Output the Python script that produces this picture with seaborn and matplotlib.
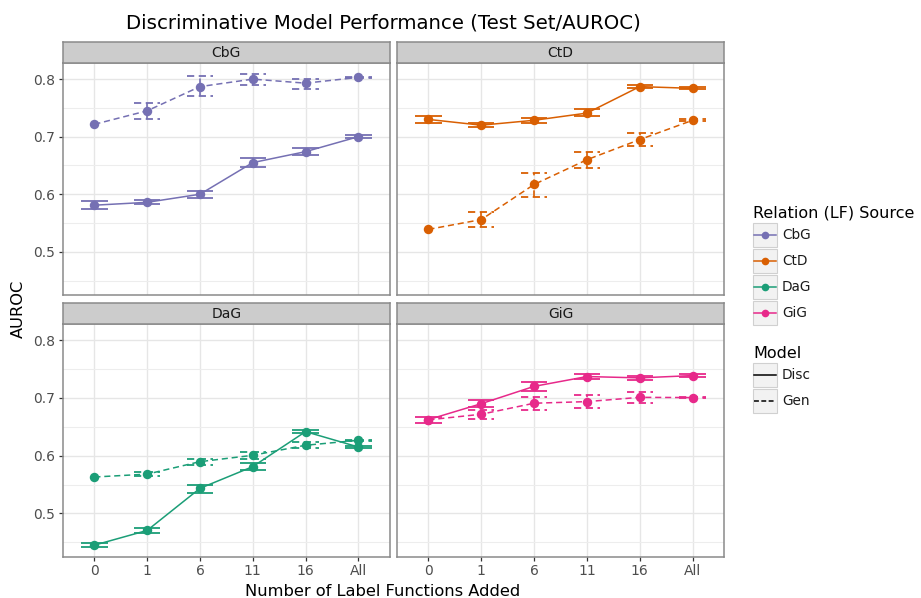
import numpy as np
import pandas as pd
import matplotlib
matplotlib.use("Agg")
import matplotlib.pyplot as plt
import seaborn as sns
from matplotlib.patches import Rectangle
from matplotlib.lines import Line2D

# ---------------- data ----------------
lf_added = ["0", "1", "6", "11", "16", "All"]
relations = ["CbG", "CtD", "DaG", "GiG"]
models = ["Disc", "Gen"]
palette = ["#7570B3", "#D95F02", "#1B9E77", "#E7298A"]
nan = np.nan

cbg_disc = [0.581, 0.586, 0.600, 0.655, 0.674, 0.700]
cbg_disc_lo = [0.574, 0.583, 0.594, 0.647, 0.668, 0.697]
cbg_disc_hi = [0.588, 0.590, 0.605, 0.663, 0.680, 0.703]
cbg_gen = [0.7215, 0.745, 0.787, 0.800, 0.793, 0.803]
cbg_gen_lo = [nan, 0.731, 0.770, 0.789, 0.783, 0.802]
cbg_gen_hi = [nan, 0.759, 0.805, 0.809, 0.801, 0.804]

ctd_disc = [0.730, 0.720, 0.7285, 0.741, 0.787, 0.784]
ctd_disc_lo = [0.724, 0.716, 0.724, 0.7355, 0.784, 0.782]
ctd_disc_hi = [0.7355, 0.724, 0.733, 0.748, 0.7895, 0.7866]
ctd_gen = [0.539, 0.556, 0.617, 0.660, 0.695, 0.7285]
ctd_gen_lo = [nan, 0.5425, 0.596, 0.646, 0.683, 0.727]
ctd_gen_hi = [nan, 0.570, 0.637, 0.674, 0.706, 0.730]

dag_disc = [0.445, 0.4705, 0.5434, 0.581, 0.6416, 0.615]
dag_disc_lo = [0.442, 0.466, 0.536, 0.5757, 0.639, 0.6127]
dag_disc_hi = [0.448, 0.475, 0.550, 0.587, 0.644, 0.6173]
dag_gen = [0.563, 0.568, 0.5896, 0.6006, 0.618, 0.6266]
dag_gen_lo = [nan, 0.5647, 0.584, 0.595, 0.6127, 0.6255]
dag_gen_hi = [nan, 0.5715, 0.594, 0.606, 0.623, 0.6277]

gig_disc = [0.6624, 0.690, 0.720, 0.737, 0.7347, 0.7387]
gig_disc_lo = [0.656, 0.6838, 0.7127, 0.733, 0.7318, 0.736]
gig_disc_hi = [0.6676, 0.6965, 0.727, 0.741, 0.7376, 0.741]
gig_gen = [0.662, 0.6717, 0.6908, 0.6936, 0.701, 0.7006]
gig_gen_lo = [nan, 0.663, 0.6786, 0.682, 0.691, 0.6995]
gig_gen_hi = [nan, 0.6798, 0.7017, 0.7046, 0.7104, 0.7017]

series = {
    ("CbG", "Disc"): (cbg_disc, cbg_disc_lo, cbg_disc_hi),
    ("CbG", "Gen"): (cbg_gen, cbg_gen_lo, cbg_gen_hi),
    ("CtD", "Disc"): (ctd_disc, ctd_disc_lo, ctd_disc_hi),
    ("CtD", "Gen"): (ctd_gen, ctd_gen_lo, ctd_gen_hi),
    ("DaG", "Disc"): (dag_disc, dag_disc_lo, dag_disc_hi),
    ("DaG", "Gen"): (dag_gen, dag_gen_lo, dag_gen_hi),
    ("GiG", "Disc"): (gig_disc, gig_disc_lo, gig_disc_hi),
    ("GiG", "Gen"): (gig_gen, gig_gen_lo, gig_gen_hi),
}

rows = []
for (rel, mod), (m, lo, hi) in series.items():
    for i, lab in enumerate(lf_added):
        rows.append(dict(relation=rel, model=mod, lf=lab, pos=i,
                         auroc=m[i], lo=lo[i], hi=hi[i]))
df = pd.DataFrame(rows)

# ---------------- figure ----------------
W, H = 921, 598
fig = plt.figure(figsize=(W / 100, H / 100), dpi=100)
plt.rcParams["font.family"] = ["DejaVu Sans"]

def rect(x0, y0, x1, y1):
    return [x0 / W, 1 - y1 / H, (x1 - x0) / W, (y1 - y0) / H]

cols = [(62.7, 390.0), (396.7, 724.3)]
rows_px = [(63.3, 295.0), (324.3, 556.7)]
strips = [(42.3, 63.3), (303.3, 324.3)]
border = "#8a8a8a"
dash = (0, (4, 2.5))

for k, rel in enumerate(relations):
    r, c = divmod(k, 2)
    x0, x1 = cols[c]
    y0, y1 = rows_px[r]
    ax = fig.add_axes(rect(x0, y0, x1, y1))
    color = palette[k]
    sub = df[df.relation == rel]
    ax.set_axisbelow(True)
    sns.lineplot(data=sub, x="pos", y="auroc", style="model",
                 style_order=models,
                 dashes={"Disc": "", "Gen": (4, 2.5)},
                 markers={"Disc": "o", "Gen": "o"},
                 markersize=6.8, markeredgewidth=0, color=color,
                 linewidth=1.1, legend=False, errorbar=None, ax=ax)
    for mod in models:
        s = sub[(sub.model == mod) & sub.lo.notna()]
        ls = "-" if mod == "Disc" else dash
        ax.vlines(s.pos, s.lo, s.hi, color=color, lw=1.2, linestyles=ls)
        ax.hlines(s.lo, s.pos - 0.25, s.pos + 0.25, color=color, lw=1.3, linestyles=ls)
        ax.hlines(s.hi, s.pos - 0.25, s.pos + 0.25, color=color, lw=1.3, linestyles=ls)

    ax.set_xlim(-0.6, 5.6)
    ax.set_ylim(0.425, 0.8275)
    ax.set_xticks(range(len(lf_added)))
    ax.set_xticklabels(lf_added)
    ax.set_yticks([0.5, 0.6, 0.7, 0.8])
    ax.set_yticks([0.45, 0.55, 0.65, 0.75], minor=True)
    ax.grid(which="major", axis="both", color="#E6E6E6", lw=1.0)
    ax.grid(which="minor", axis="y", color="#EDEDED", lw=0.8)
    ax.tick_params(which="minor", length=0)
    ax.tick_params(which="major", length=3.2, width=0.9, color="#333333",
                   labelsize=10, labelcolor="#4D4D4D", pad=2)
    ax.set_xlabel("")
    ax.set_ylabel("")
    if r == 0:
        ax.tick_params(axis="x", length=0, labelbottom=False)
    if c == 1:
        ax.tick_params(axis="y", length=0, labelleft=False)
    for sp in ax.spines.values():
        sp.set_color(border)
        sp.set_linewidth(1.1)
    ax.set_facecolor("white")

    # strip
    sy0, sy1 = strips[r]
    sax = fig.add_axes(rect(x0, sy0, x1, sy1))
    sax.set_facecolor("#CCCCCC")
    sax.set_xticks([])
    sax.set_yticks([])
    for sp in sax.spines.values():
        sp.set_color(border)
        sp.set_linewidth(1.1)
    sax.text(0.5, 0.5, rel, ha="center", va="center", fontsize=10,
             color="#1A1A1A", transform=sax.transAxes)

# titles / labels
fig.text(383 / W, 1 - 23 / H, "Discriminative Model Performance (Test Set/AUROC)",
         ha="center", va="center", fontsize=14.2, color="black")
fig.text(383 / W, 1 - 591 / H, "Number of Label Functions Added",
         ha="center", va="center", fontsize=11.7, color="black")
fig.text(18 / W, 1 - 309 / H, "AUROC", ha="center", va="center",
         rotation=90, fontsize=11.7, color="black")

# ---------------- legend (pixel overlay) ----------------
lax = fig.add_axes([0, 0, 1, 1], facecolor="none")
lax.set_xlim(0, W)
lax.set_ylim(H, 0)
lax.axis("off")

lx = 753.3
lax.text(lx, 213, "Relation (LF) Source", ha="left", va="center",
         fontsize=11.5, color="black")
key_tops = [223, 249, 275, 301]
for rel, col, top in zip(relations, palette, key_tops):
    lax.add_patch(Rectangle((lx, top), 24, 24, facecolor="#F2F2F2",
                            edgecolor="#D0D0D0", lw=0.8))
    lax.add_line(Line2D([lx + 1, lx + 23], [top + 12, top + 12], color=col, lw=1.1))
    lax.add_line(Line2D([lx + 12], [top + 12], marker="o", color=col,
                        markersize=5.5, markeredgewidth=0))
    lax.text(lx + 28.5, top + 12, rel, ha="left", va="center", fontsize=9.8,
             color="#1A1A1A")

lax.text(lx, 354, "Model", ha="left", va="center", fontsize=11.5, color="black")
for mod, top, ls in zip(models, [363, 389], ["-", (0, (3.2, 1.6))]):
    lax.add_patch(Rectangle((lx, top), 24, 24, facecolor="#F2F2F2",
                            edgecolor="#D0D0D0", lw=0.8))
    lax.add_line(Line2D([lx + 1, lx + 23], [top + 12, top + 12], color="black",
                        lw=1.1, linestyle=ls))
    lax.text(lx + 28.5, top + 12, mod, ha="left", va="center", fontsize=9.8,
             color="#1A1A1A")

fig.savefig("out.png", dpi=100, facecolor="white")
